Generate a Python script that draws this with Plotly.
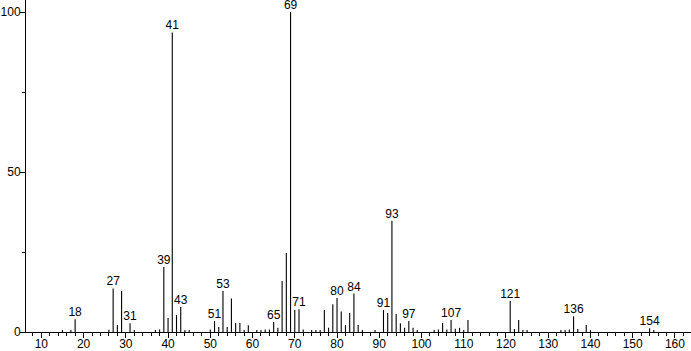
import plotly.graph_objects as go

# m/z values and relative intensities (%)
mz = [15, 17, 18, 26, 27, 28, 29, 31, 32, 37, 38, 39, 40, 41, 42, 43, 44, 45,
      50, 51, 52, 53, 54, 55, 56, 57, 58, 59, 61, 62, 63, 64, 65, 66, 67, 68,
      69, 70, 71, 72, 74, 75, 76, 77, 78, 79, 80, 81, 82, 83, 84, 85, 86, 89,
      91, 92, 93, 94, 95, 96, 97, 98, 99, 103, 104, 105, 106, 107, 108, 109,
      110, 111, 121, 122, 123, 124, 125, 133, 134, 135, 136, 137, 139, 140,
      154, 155]
intensity = [0.6, 0.6, 4.0, 0.7, 13.6, 2.2, 12.8, 2.7, 0.6, 0.6, 0.8, 20.3,
             4.4, 93.6, 5.3, 7.8, 0.6, 0.6, 0.8, 3.4, 1.6, 12.8, 1.6, 10.5,
             2.8, 2.8, 0.6, 2.1, 0.6, 0.6, 0.8, 0.8, 3.1, 1.3, 15.9, 24.7,
             100.0, 6.9, 7.1, 0.8, 0.6, 0.6, 0.6, 6.9, 1.3, 8.7, 10.6, 6.4,
             2.2, 5.9, 12.0, 2.2, 0.6, 0.6, 6.9, 5.9, 34.8, 5.6, 2.7, 1.3,
             3.4, 1.3, 0.6, 0.6, 0.8, 2.8, 0.8, 3.75, 1.0, 1.3, 0.6, 3.75,
             9.7, 0.9, 3.75, 0.6, 0.6, 0.6, 0.6, 0.8, 4.9, 0.9, 2.2, 0.6,
             1.2, 0.6]

labeled_mz = [18, 27, 31, 39, 41, 43, 51, 53, 65, 69, 71, 80, 84, 91, 93, 97,
              107, 121, 136, 154]

x_ticks = list(range(10, 161, 10))
y_ticks = [0, 50, 100]

# build stick segments
xs, ys = [], []
for m, v in zip(mz, intensity):
    xs += [m, m, None]
    ys += [0, v, None]

lookup = dict(zip(mz, intensity))
lab_y = [lookup[m] for m in labeled_mz]

font_family = "Liberation Sans, Arial, sans-serif"

fig = go.Figure()
fig.add_trace(go.Scatter(x=xs, y=ys, mode="lines",
                         line=dict(color="black", width=1.1),
                         hoverinfo="skip", showlegend=False))
fig.add_trace(go.Scatter(x=labeled_mz, y=lab_y, mode="text",
                         text=[str(m) for m in labeled_mz],
                         textposition="top center",
                         textfont=dict(family=font_family, size=12, color="black"),
                         cliponaxis=False,
                         showlegend=False, hoverinfo="skip"))

fig.update_layout(
    width=691, height=351,
    margin=dict(l=26, r=0, t=0, b=19),
    paper_bgcolor="white", plot_bgcolor="white",
    font=dict(family=font_family, size=12, color="black"),
    xaxis=dict(range=[6.37, 163.8], showgrid=False, zeroline=False,
               automargin=False,
               showline=True, linecolor="black", linewidth=1,
               ticks="outside", tickvals=x_ticks, ticklen=5, tickcolor="black",
               ticklabelstandoff=-4,
               tickfont=dict(family=font_family, size=12, color="black"),
               minor=dict(ticks="outside", dtick=2, tick0=0, ticklen=3,
                          tickcolor="black", showgrid=False)),
    yaxis=dict(range=[0, 103.75], showgrid=False, zeroline=False,
               automargin=False,
               showline=True, linecolor="black", linewidth=1,
               ticks="outside", tickvals=y_ticks, ticklen=5, tickcolor="black",
               ticklabelstandoff=-3,
               tickfont=dict(family=font_family, size=12, color="black"),
               minor=dict(ticks="outside", tickvals=[25, 75], ticklen=3,
                          tickcolor="black", showgrid=False)),
)

fig.write_html("out.html")
